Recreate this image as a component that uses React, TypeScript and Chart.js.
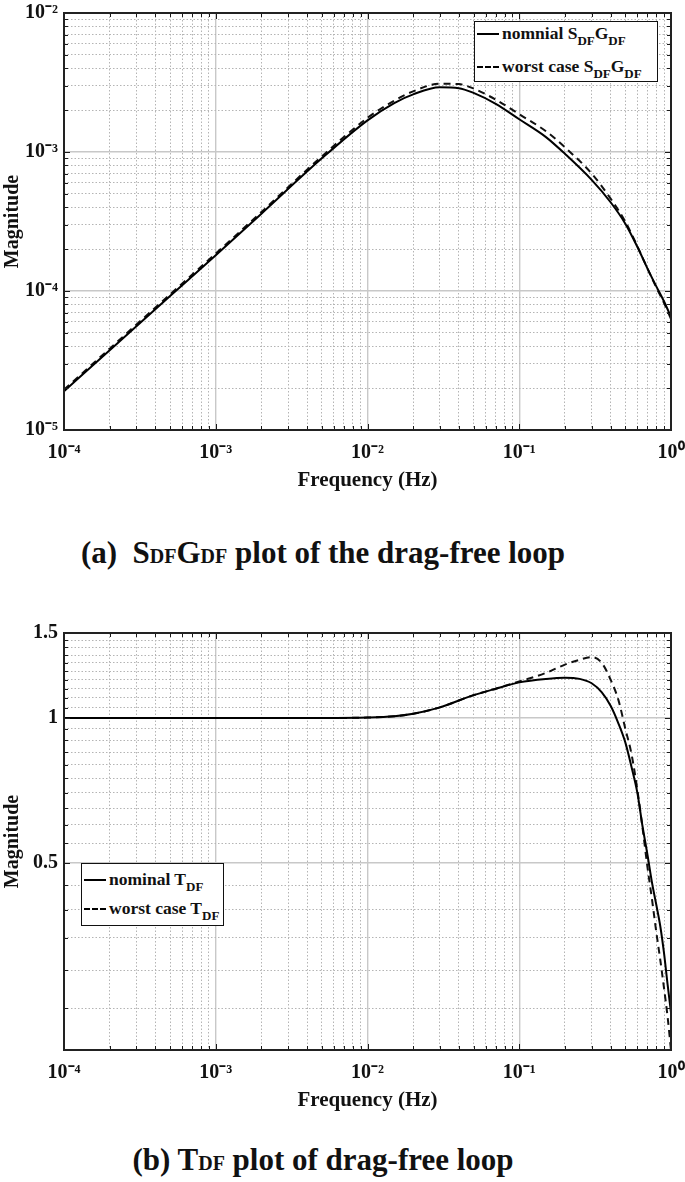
import React, { useEffect, useRef } from 'react';
import { Chart, registerables } from 'chart.js';

Chart.register(...registerables);

const FONT = '"Liberation Serif", "Times New Roman", Times, serif';

// ---------- (a) S_DF G_DF ----------
const sgFreq = [1e-4, 2e-4, 5e-4, 1e-3, 2e-3, 5e-3, 1e-2, 0.015, 0.02, 0.03, 0.04, 0.05, 0.07, 0.1, 0.15, 0.2, 0.3, 0.4, 0.5, 0.6, 0.7, 0.8, 0.9, 1.0];
const sgNominal = [1.9e-5, 3.75e-5, 9.2e-5, 1.81e-4, 3.6e-4, 9.0e-4, 1.69e-3, 2.25e-3, 2.6e-3, 2.92e-3, 2.88e-3, 2.66e-3, 2.22e-3, 1.72e-3, 1.28e-3, 9.7e-4, 6.3e-4, 4.35e-4, 3.05e-4, 2.08e-4, 1.45e-4, 1.08e-4, 8.4e-5, 6.5e-5];
const sgWorst = [1.95e-5, 3.85e-5, 9.45e-5, 1.86e-4, 3.7e-4, 9.3e-4, 1.76e-3, 2.34e-3, 2.73e-3, 3.1e-3, 3.08e-3, 2.86e-3, 2.38e-3, 1.87e-3, 1.41e-3, 1.08e-3, 7.0e-4, 4.62e-4, 3.15e-4, 2.1e-4, 1.45e-4, 1.06e-4, 8.2e-5, 6.3e-5];
const sgYDecadeLabels = ['10\u207B\u2075', '10\u207B\u2074', '10\u207B\u00B3', '10\u207B\u00B2'];
const sgSeriesNames = ['nomnial', 'worst case'];

// ---------- (b) T_DF ----------
const tFreq = [1e-4, 1e-3, 5e-3, 0.01, 0.015, 0.02, 0.03, 0.05, 0.07, 0.1, 0.15, 0.2, 0.25, 0.3, 0.35, 0.4, 0.45, 0.5, 0.55, 0.6, 0.65, 0.7, 0.75, 0.8, 0.85, 0.9, 0.95, 1.0];
const tNominal = [1, 1, 1, 1.002, 1.008, 1.02, 1.052, 1.115, 1.15, 1.185, 1.205, 1.212, 1.205, 1.18, 1.13, 1.06, 0.975, 0.89, 0.79, 0.70, 0.595, 0.52, 0.455, 0.41, 0.37, 0.325, 0.28, 0.245];
const tWorst = [1, 1, 1, 1.002, 1.008, 1.02, 1.052, 1.115, 1.15, 1.19, 1.24, 1.29, 1.32, 1.337, 1.30, 1.20, 1.09, 0.95, 0.84, 0.71, 0.59, 0.49, 0.42, 0.36, 0.315, 0.275, 0.24, 0.205];
const tYTickValues = [0.25, 0.3, 0.35, 0.4, 0.45, 0.5, 0.55, 0.6, 0.65, 0.7, 0.75, 0.8, 0.85, 0.9, 0.95, 1, 1.05, 1.1, 1.15, 1.2, 1.25, 1.3, 1.35, 1.4, 1.45, 1.5];
const tYLabelled = [0.5, 1, 1.5];
const tSeriesNames = ['nominal', 'worst case'];

// shared x axis
const xDecadeLabels = ['10\u207B\u2074', '10\u207B\u00B3', '10\u207B\u00B2', '10\u207B\u00B9', '10\u2070'];

function logTicks(minExp: number, maxExp: number) {
  const out: { value: number; major: boolean }[] = [];
  for (let e = minExp; e < maxExp; e++) {
    for (let k = 1; k <= 9; k++) out.push({ value: k * Math.pow(10, e), major: k === 1 });
  }
  out.push({ value: Math.pow(10, maxExp), major: true });
  return out;
}

const framePlugin = {
  id: 'frameTicks',
  afterDatasetsDraw(chart: any) {
    const { ctx, chartArea: a, scales } = chart;
    ctx.save();
    ctx.strokeStyle = '#1a1a1a';
    ctx.lineWidth = 1;
    const xs = scales.x;
    const ys = scales.y;
    ctx.beginPath();
    xs.ticks.forEach((t: any) => {
      const px = Math.round(xs.getPixelForValue(t.value)) + 0.5;
      const len = t.major ? 6 : 4;
      ctx.moveTo(px, a.bottom); ctx.lineTo(px, a.bottom - len);
      ctx.moveTo(px, a.top); ctx.lineTo(px, a.top + len);
    });
    ys.ticks.forEach((t: any) => {
      const py = Math.round(ys.getPixelForValue(t.value)) + 0.5;
      const len = t.major ? 6 : 4;
      ctx.moveTo(a.left, py); ctx.lineTo(a.left + len, py);
      ctx.moveTo(a.right, py); ctx.lineTo(a.right - len, py);
    });
    ctx.stroke();
    ctx.lineWidth = 2;
    ctx.strokeStyle = '#222';
    ctx.strokeRect(a.left, a.top, a.right - a.left, a.bottom - a.top);
    ctx.restore();
  },
};

const gridOpts = {
  color: (c: any) => (c.tick && c.tick.major ? '#c8c8c8' : '#b4b4b4'),
  lineWidth: (c: any) => (c.tick && c.tick.major ? 1.4 : 1),
  drawTicks: false,
};
const borderOpts = {
  display: false,
  dash: (c: any) => (c.tick && c.tick.major ? [] : [1.5, 2]),
};

function makeConfig(
  freq: number[],
  nominal: number[],
  worst: number[],
  yScale: any
) {
  return {
    type: 'line',
    data: {
      datasets: [
        {
          data: freq.map((f, i) => ({ x: f, y: nominal[i] })),
          borderColor: '#000',
          borderWidth: 2,
          pointRadius: 0,
          cubicInterpolationMode: 'monotone',
          fill: false,
        },
        {
          data: freq.map((f, i) => ({ x: f, y: worst[i] })),
          borderColor: '#111',
          borderWidth: 2,
          borderDash: [7, 5],
          pointRadius: 0,
          cubicInterpolationMode: 'monotone',
          fill: false,
        },
      ],
    },
    options: {
      animation: false,
      responsive: false,
      events: [],
      layout: { padding: { left: 0, right: 14, top: 13, bottom: 0 } },
      plugins: { legend: { display: false }, tooltip: { enabled: false } },
      scales: {
        x: {
          type: 'logarithmic',
          min: 1e-4,
          max: 1,
          afterBuildTicks: (s: any) => { s.ticks = logTicks(-4, 0); },
          afterFit: (s: any) => { s.height = 70; s.paddingLeft = 0; s.paddingRight = 0; },
          ticks: {
            autoSkip: false,
            maxRotation: 0,
            minRotation: 0,
            padding: 11,
            color: '#111',
            font: { family: FONT, size: 20, weight: 'bold' },
            callback: (v: any) => {
              const e = Math.round(Math.log10(v));
              return Math.abs(v - Math.pow(10, e)) < 1e-12 ? xDecadeLabels[e + 4] : '';
            },
          },
          grid: gridOpts,
          border: borderOpts,
          title: {
            display: true,
            text: 'Frequency (Hz)',
            color: '#111',
            font: { family: FONT, size: 21, weight: 'bold' },
            padding: { top: 0, bottom: 7 },
          },
        },
        y: {
          ...yScale,
          afterFit: (s: any) => { s.width = 64; s.paddingTop = 0; s.paddingBottom = 0; },
          grid: gridOpts,
          border: borderOpts,
          title: {
            display: true,
            text: 'Magnitude',
            color: '#111',
            font: { family: FONT, size: 20, weight: 'bold' },
            padding: { top: 1, bottom: 0 },
          },
        },
      },
    },
    plugins: [framePlugin],
  };
}

const sgYScale = {
  type: 'logarithmic',
  min: 1e-5,
  max: 1e-2,
  afterBuildTicks: (s: any) => { s.ticks = logTicks(-5, -2); },
  ticks: {
    autoSkip: false,
    padding: 6,
    color: '#111',
    font: { family: FONT, size: 20, weight: 'bold' },
    callback: (v: any) => {
      const e = Math.round(Math.log10(v));
      return Math.abs(v / Math.pow(10, e) - 1) < 1e-9 ? sgYDecadeLabels[e + 5] : '';
    },
  },
};

const tYScale = {
  type: 'logarithmic',
  min: 0.205,
  max: 1.5,
  afterBuildTicks: (s: any) => {
    s.ticks = tYTickValues.map((v) => ({ value: v, major: tYLabelled.includes(v) }));
  },
  ticks: {
    autoSkip: false,
    padding: 6,
    color: '#111',
    font: { family: FONT, size: 20, weight: 'bold' },
    callback: (v: any) => (tYLabelled.includes(v) ? String(v) : ''),
  },
};

function ChartCanvas({ config, top }: { config: any; top: number }) {
  const ref = useRef<HTMLCanvasElement | null>(null);
  useEffect(() => {
    if (!ref.current) return;
    const chart = new Chart(ref.current, config);
    return () => chart.destroy();
  }, [config]);
  return (
    <canvas
      ref={ref}
      width={685}
      height={500}
      style={{ position: 'absolute', left: 0, top, width: 685, height: 500 }}
    />
  );
}

const sub: React.CSSProperties = { fontSize: 13, position: 'relative', top: 6 };
const smallCap: React.CSSProperties = { fontSize: 20 };

function LegendRow({ dashed, children, top }: { dashed: boolean; children: any; top: number }) {
  return (
    <div style={{ position: 'absolute', left: 2, top, display: 'flex', alignItems: 'center', whiteSpace: 'nowrap' }}>
      <span
        style={{
          display: 'inline-block',
          width: 22,
          height: 0,
          borderTop: dashed ? '2px dashed #000' : '2px solid #000',
          marginRight: 3,
        }}
      />
      <span>{children}</span>
    </div>
  );
}

const cfgA = makeConfig(sgFreq, sgNominal, sgWorst, sgYScale);
const cfgB = makeConfig(tFreq, tNominal, tWorst, tYScale);

export default function App() {
  const legendBox: React.CSSProperties = {
    position: 'absolute',
    background: '#fff',
    border: '1.5px solid #111',
    boxSizing: 'border-box',
    fontFamily: FONT,
    fontWeight: 'bold',
    fontSize: 17.5,
    color: '#111',
    lineHeight: '22px',
  };
  const caption: React.CSSProperties = {
    position: 'absolute', left: 0, width: 646, textAlign: 'center',
    fontFamily: FONT, fontWeight: 'bold', fontSize: 31, color: '#111', lineHeight: '36px', whiteSpace: 'nowrap',
  };
  return (
    <div style={{ position: 'absolute', left: 0, top: 0, width: 685, height: 1182, background: '#fff', overflow: 'hidden' }}>
      <ChartCanvas config={cfgA} top={0} />
      <ChartCanvas config={cfgB} top={620} />

      <div style={{ ...legendBox, left: 474, top: 21, width: 184, height: 61 }}>
        <LegendRow dashed={false} top={0}>
          {sgSeriesNames[0]} S<span style={sub}>DF</span>G<span style={sub}>DF</span>
        </LegendRow>
        <LegendRow dashed={true} top={33}>
          {sgSeriesNames[1]} S<span style={sub}>DF</span>G<span style={sub}>DF</span>
        </LegendRow>
      </div>

      <div style={{ ...legendBox, left: 81, top: 863, width: 143, height: 63 }}>
        <LegendRow dashed={false} top={4}>
          {tSeriesNames[0]} T<span style={sub}>DF</span>
        </LegendRow>
        <LegendRow dashed={true} top={33}>
          {tSeriesNames[1]} T<span style={sub}>DF</span>
        </LegendRow>
      </div>

      <div style={{ ...caption, top: 535 }}>
        (a)&nbsp;&nbsp;S<span style={smallCap}>DF</span>G<span style={smallCap}>DF</span> plot of the drag-free loop
      </div>
      <div style={{ ...caption, top: 1142 }}>
        (b) T<span style={smallCap}>DF</span> plot of drag-free loop
      </div>
    </div>
  );
}
